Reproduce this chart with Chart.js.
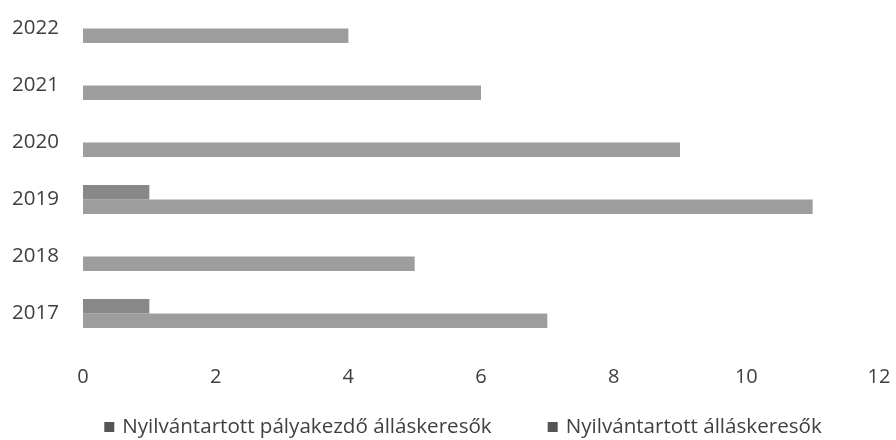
<!DOCTYPE html>
<html>
<head>
<meta charset="utf-8">
<script src="https://cdn.jsdelivr.net/npm/chart.js@4/dist/chart.umd.min.js"></script>
<style>
  html, body { margin: 0; padding: 0; background: #fff; }
  #wrap { width: 896px; height: 440px; position: relative; }
</style>
</head>
<body>
<div id="wrap"><canvas id="chart"></canvas></div>
<script>
// years top to bottom, like in the picture
const years = ['2022', '2021', '2020', '2019', '2018', '2017'];
const palyakezdo = [0, 0, 0, 1, 0, 1];
const allaskeresok = [4, 6, 9, 11, 5, 7];
const seriesNames = ['Nyilvántartott pályakezdő álláskeresők', 'Nyilvántartott álláskeresők'];

const fontFamily = '"Open Sans", "DejaVu Sans", sans-serif';
const textColor = '#404040';

// legend drawn by hand so the spacing matches the original
const bottomLegend = {
  id: 'bottomLegend',
  afterDraw(chart) {
    const ctx = chart.ctx;
    ctx.save();
    ctx.font = '20.6px ' + fontFamily;
    ctx.textBaseline = 'middle';
    const box = 10, boxGap = 8, itemGap = 56;
    const items = chart.data.datasets.map(ds => ({
      label: ds.label,
      color: ds.legendColor,
      w: box + boxGap + ctx.measureText(ds.label).width
    }));
    const total = items.reduce((s, it) => s + it.w, 0) + itemGap * (items.length - 1);
    let x = chart.width / 2 + 15 - total / 2;
    const y = 427;
    for (const it of items) {
      ctx.fillStyle = it.color;
      ctx.fillRect(x, y - box / 2, box, box);
      ctx.fillStyle = textColor;
      ctx.fillText(it.label, x + box + boxGap, y);
      x += it.w + itemGap;
    }
    ctx.restore();
  }
};

new Chart(document.getElementById('chart'), {
  type: 'bar',
  data: {
    labels: years,
    datasets: [
      {
        label: seriesNames[0],
        data: palyakezdo,
        backgroundColor: '#888888',
        legendColor: '#555555',
        categoryPercentage: 0.51,
        barPercentage: 1.0
      },
      {
        label: seriesNames[1],
        data: allaskeresok,
        backgroundColor: '#9d9d9d',
        legendColor: '#555555',
        categoryPercentage: 0.51,
        barPercentage: 1.0
      }
    ]
  },
  options: {
    indexAxis: 'y',
    responsive: true,
    maintainAspectRatio: false,
    animation: false,
    layout: { padding: { left: 0, right: 17, top: 0, bottom: 0 } },
    plugins: {
      legend: { display: false },
      tooltip: { enabled: false }
    },
    scales: {
      x: {
        min: 0,
        max: 12,
        ticks: {
          stepSize: 2,
          color: textColor,
          font: { family: fontFamily, size: 20 },
          padding: 15
        },
        grid: { display: false },
        border: { display: false },
        afterFit(scale) {
          scale.height = 98;
          scale.paddingLeft = 0;
          scale.paddingRight = 0;
        }
      },
      y: {
        ticks: {
          color: textColor,
          font: { family: fontFamily, size: 20.5 },
          padding: 24
        },
        grid: { display: false, drawTicks: false },
        border: { display: false },
        afterFit(scale) {
          scale.width = 83;
          scale.paddingTop = 0;
          scale.paddingBottom = 0;
        }
      }
    }
  },
  plugins: [bottomLegend]
});
</script>
</body>
</html>
